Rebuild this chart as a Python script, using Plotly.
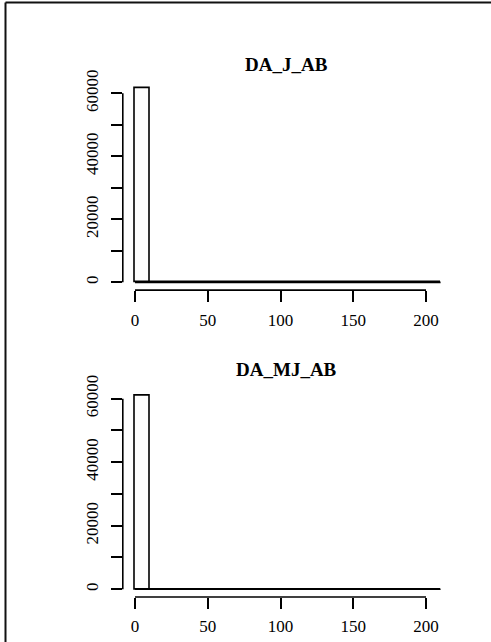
import plotly.graph_objects as go

W, H = 491, 642

# ---- data ----
bin_edges = [0, 10, 20, 30, 40, 50, 60, 70, 80, 90, 100, 110, 120, 130, 140, 150,
             160, 170, 180, 190, 200, 210]
counts_j = [61700] + [0] * 20
counts_mj = [61000] + [0] * 20
titles = ["DA_J_AB", "DA_MJ_AB"]
x_ticks = [0, 50, 100, 150, 200]
y_ticks = [0, 10000, 20000, 30000, 40000, 50000, 60000]
y_tick_text = ["0", "", "20000", "", "40000", "", "60000"]

FONT = "Liberation Serif, Times New Roman, serif"
LW = 1.6

def px_x(p):
    return p / W

def px_y(p):
    return 1 - p / H

# panel geometry in pixels (left, right, top, bottom)
panels = [
    dict(l=122.8, r=452.8, t=80.2, b=290.1, title_y=64),
    dict(l=122.8, r=452.8, t=387.7, b=597.0, title_y=370),
]

fig = go.Figure()
shapes = []
annotations = []

for i, (counts, title, pn) in enumerate(zip([counts_j, counts_mj], titles, panels)):
    idx = "" if i == 0 else str(i + 1)
    xa, ya = "x" + idx, "y" + idx
    lefts = bin_edges[:-1]
    widths = [bin_edges[k + 1] - bin_edges[k] for k in range(len(lefts))]
    fig.add_trace(go.Bar(
        x=lefts, y=counts, width=widths, offset=0,
        marker=dict(color="white", line=dict(color="black", width=LW)),
        xaxis=xa, yaxis=ya, hoverinfo="skip"))
    # baseline of zero-height bins
    fig.add_trace(go.Scatter(
        x=[bin_edges[0], bin_edges[-1]], y=[0, 0], mode="lines",
        line=dict(color="black", width=LW),
        xaxis=xa, yaxis=ya, hoverinfo="skip"))

    ymax = max(counts)
    xr = [bin_edges[0] - 0.04 * (bin_edges[-1] - bin_edges[0]),
          bin_edges[-1] + 0.04 * (bin_edges[-1] - bin_edges[0])]
    yr = [-0.04 * ymax, 1.04 * ymax]

    xkey = "xaxis" + idx
    ykey = "yaxis" + idx
    fig.update_layout(**{
        xkey: dict(domain=[px_x(pn["l"]), px_x(pn["r"])], range=xr, anchor=ya,
                   showgrid=False, zeroline=False, showline=False, automargin=False,
                   tickmode="array", tickvals=x_ticks,
                   ticks="outside", ticklen=11, tickwidth=LW, tickcolor="black",
                   tickfont=dict(family=FONT, size=17, color="black"),
                   ticklabelstandoff=3, fixedrange=True),
        ykey: dict(domain=[px_y(pn["b"]), px_y(pn["t"])], range=yr, anchor=xa,
                   showgrid=False, zeroline=False, showline=False, automargin=False,
                   tickmode="array", tickvals=y_ticks, ticktext=y_tick_text,
                   ticks="outside", ticklen=11, tickwidth=LW, tickcolor="black",
                   tickangle=-90,
                   tickfont=dict(family=FONT, size=17, color="black"),
                   ticklabelstandoff=6, fixedrange=True),
    })
    # R-style axis lines spanning first to last tick
    shapes.append(dict(type="line", xref=xa, yref=ya + " domain",
                       x0=x_ticks[0], x1=x_ticks[-1], y0=0, y1=0,
                       line=dict(color="black", width=LW)))
    shapes.append(dict(type="line", xref=xa + " domain", yref=ya,
                       x0=0, x1=0, y0=y_ticks[0], y1=y_ticks[-1],
                       line=dict(color="black", width=LW)))
    annotations.append(dict(text="<b>" + title + "</b>", xref="paper", yref="paper",
                            x=(px_x(pn["l"]) + px_x(pn["r"])) / 2 - 0.003, y=px_y(pn["title_y"]),
                            xanchor="center", yanchor="middle", showarrow=False,
                            font=dict(family=FONT, size=19, color="black")))

# outer frame (left and top edges)
shapes.append(dict(type="line", xref="paper", yref="paper",
                   x0=px_x(5.5), x1=px_x(5.5), y0=0, y1=px_y(2.5),
                   line=dict(color="#111", width=2)))
shapes.append(dict(type="line", xref="paper", yref="paper",
                   x0=px_x(5.5), x1=1, y0=px_y(2.5), y1=px_y(2.5),
                   line=dict(color="#111", width=2)))

fig.update_layout(
    width=W, height=H, autosize=False,
    margin=dict(l=0, r=0, t=0, b=0, autoexpand=False),
    paper_bgcolor="white", plot_bgcolor="white",
    showlegend=False, bargap=0,
    shapes=shapes, annotations=annotations,
)

fig.write_html("out.html", config={"displayModeBar": False},
               post_script="document.body.style.margin='0';document.body.style.overflow='hidden';")
